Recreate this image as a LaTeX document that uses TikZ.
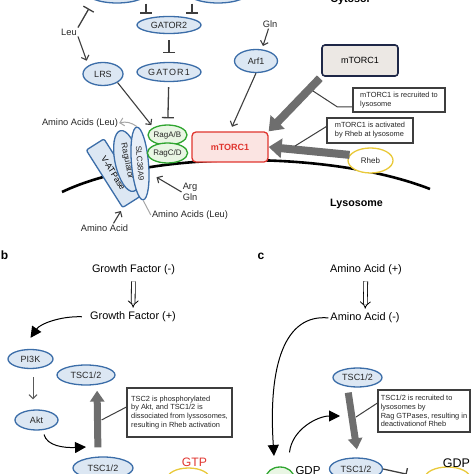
\documentclass[tikz,border=0pt]{standalone}
\usepackage{fontspec}
\setmainfont{Liberation Sans}
\usetikzlibrary{shapes.geometric,arrows.meta}

\definecolor{ellblue}{HTML}{3B6DA8}
\definecolor{fillblue}{HTML}{DCE7F3}
\definecolor{paleblue}{HTML}{E8EFF8}
\definecolor{ragline}{HTML}{2FA52F}
\definecolor{ragfill}{HTML}{E9F6E4}
\definecolor{torred}{HTML}{E0352F}
\definecolor{torfill}{HTML}{FBE4E2}
\definecolor{rhebline}{HTML}{E9C93A}
\definecolor{boxgray}{HTML}{ECE8E4}
\definecolor{boxnavy}{HTML}{1E2747}
\definecolor{bigarrow}{HTML}{6E6E6E}
\definecolor{linegray}{HTML}{3E3E3E}

\tikzset{
  prot/.style={ellipse, draw=ellblue, fill=fillblue, line width=1.3pt, inner sep=0pt, text=black!85, font=\fontsize{9}{10}\selectfont},
  rag/.style={ellipse, draw=ragline, fill=ragfill, line width=1.3pt, inner sep=0pt, text=black!85, font=\fontsize{8}{9}\selectfont},
  rhebell/.style={ellipse, draw=rhebline, fill=white, line width=1.3pt, inner sep=0pt, text=black!85, font=\fontsize{8}{9}\selectfont},
  lbl/.style={inner sep=1pt, text=black!85, font=\fontsize{9.3}{10.5}\selectfont},
  biglbl/.style={inner sep=1pt, font=\fontsize{10.9}{12}\selectfont},
  labelbf/.style={inner sep=0pt, font=\bfseries\fontsize{12}{14}\selectfont},
  note/.style={draw=linegray, line width=1.1pt, fill=white, align=left, inner sep=2pt, text=black!85, font=\fontsize{7.4}{8.9}\selectfont},
  callout/.style={draw=linegray, line width=1pt},
  act/.style={draw=linegray, line width=1.1pt, -{Straight Barb[length=4pt,width=8pt]}},
  actgray/.style={draw=black!65, line width=1pt, -{Straight Barb[length=4pt,width=8pt]}},
  grayarr/.style={draw=black!35, line width=1pt, -{Straight Barb[length=4pt,width=8pt]}},
  grayline/.style={draw=black!35, line width=1pt},
  inh/.style={draw=linegray, line width=1.3pt, -{Bar[width=12pt]}},
  bigarr/.style={draw=bigarrow, line width=8pt, -{Triangle[length=13pt,width=19pt]}},
  bigarrb/.style={draw=bigarrow, line width=7pt, -{Triangle[length=11pt,width=14pt]}},
  curv/.style={draw=black, line width=1pt, -{Triangle[length=11pt,width=11pt]}},
  hollow/.style={draw=black, double, double distance=3pt, line width=0.8pt, -{Implies}},
}

\begin{document}
\begin{tikzpicture}[x=1pt,y=1pt]
  \useasboundingbox (0,0) rectangle (474,474);
  \clip (0,0) rectangle (474,474);
  % (a) lysosome
  \draw[line width=2.6pt] (62,282) .. controls (150,324) and (330,324) .. (430,285);
  \node[prot, minimum width=64pt, minimum height=24pt] (sens1) at (117,483) {};
  \node[prot, minimum width=64pt, minimum height=24pt] (sens2) at (218,483) {};
  \node[inner sep=0pt, font=\bfseries\fontsize{10.7}{12}\selectfont] (cyto) at (350,474) {Cytosol};
  \node[prot, minimum width=64pt, minimum height=17pt] (gator2) at (169,449) {GATOR2};
  \node[prot, minimum width=64pt, minimum height=19pt] (gator1) at (169,402) {\addfontfeatures{LetterSpace=12}GATOR1};
  \node[lbl] (leu) at (69,442) {Leu};
  \node[prot, minimum width=40pt, minimum height=23pt] (lrs) at (103,400) {LRS};
  \node[lbl] (gln) at (270,450) {Gln};
  \node[prot, minimum width=43pt, minimum height=23pt] (arf1) at (256,413) {Arf1};
  \node[draw=ellblue, fill=fillblue, line width=1.3pt, rounded corners=2pt, minimum width=68pt, minimum height=21pt, inner sep=0pt, rotate=-57.6, font=\fontsize{8.5}{9}\selectfont] (vatp) at (113.3,300.8) {V-ATPase};
  \node[prot, minimum width=62pt, minimum height=24pt, rotate=-78, font=\fontsize{8.5}{9}\selectfont] (ragu) at (127,313) {Ragulator};
  \node[prot, fill=paleblue, minimum width=73pt, minimum height=17pt, rotate=-85, font=\fontsize{8}{9}\selectfont] (slc) at (140,310.5) {SLC38A9};
  \node[rag, minimum width=35pt, minimum height=20pt] (ragab) at (167.5,339) {RagA/B};
  \node[rag, minimum width=35pt, minimum height=20pt] (ragcd) at (167.5,321) {RagC/D};
  \node[draw=torred, fill=torfill, line width=1.3pt, rounded corners=4pt, minimum width=76pt, minimum height=30pt, text=torred, font=\bfseries\fontsize{9}{10}\selectfont] (mtor) at (230,327) {mTORC1};
  \node[draw=boxnavy, fill=boxgray, line width=1.6pt, rounded corners=3pt, minimum width=76pt, minimum height=31pt, font=\fontsize{9}{10}\selectfont] (mtorfree) at (360,413.5) {mTORC1};
  \node[note, minimum width=92pt, minimum height=24pt] (noterec) at (399,374) {mTORC1 is recruited to\\lysosome};
  \node[note, minimum width=86pt, minimum height=25pt] (noteact) at (370,343.5) {mTORC1 is activated\\by Rheb at lysosome};
  \node[rhebell, minimum width=45pt, minimum height=25pt] (rheb) at (370.5,313.5) {Rheb};
  \node[inner sep=0pt, font=\bfseries\fontsize{10.7}{12}\selectfont] (lyso) at (356.5,270) {Lysosome};
  \node[lbl] (aaleu1) at (80,351) {Amino Acids (Leu)};
  \node[lbl] (aaleu2) at (190,259) {Amino Acids (Leu)};
  \node[lbl, align=center] (arggln) at (190,282) {Arg\\Gln};
  \node[lbl] (aacid) at (104.5,246) {Amino Acid};
  \coordinate (onrec) at (313,383);
  \coordinate (onact) at (295,328);
  \draw[inh, shorten >=10pt] (leu.north east) -- (sens1.south west);
  \draw[inh, shorten >=5pt] (gator2.north west |- sens1.south) -- (gator2.north west);
  \draw[inh, shorten >=5pt] (gator2.north east |- sens2.south) -- (gator2.north east);
  \draw[inh, shorten <=6pt, shorten >=9pt] (gator2) -- (gator1);
  \draw[inh, shorten <=5pt, shorten >=6pt] (gator1) -- (ragab);
  \draw[act, shorten >=5pt] (leu.south east) -- (lrs.north west);
  \draw[act, shorten >=3pt] (lrs.south east) -- (ragab.north west);
  \draw[act, shorten >=3pt] (gln) -- ([xshift=6pt]arf1.north);
  \draw[act, shorten >=5pt] (arf1.south) -- (mtor.north);
  \draw[grayarr] (slc.west) to[bend right=25] (aaleu1.east);
  \draw[grayline] (slc.east) -- (aaleu2.west);
  \draw[act, shorten >=8pt] (arggln.west) -- (slc.40);
  \draw[act, shorten >=3pt] ([xshift=9pt]aacid.north) -- (vatp.south east);
  \draw[bigarr, shorten <=2pt] (mtorfree.south west) -- (mtor.north east);
  \draw[bigarr] (rheb.165) -- (mtor.east);
  \draw[callout] ([yshift=-7pt]noterec.west) -- ++(-15,0) -- (onrec);
  \draw[callout] ([yshift=4pt]noteact.west) -- (onact);

  % (b) growth factor
  \node[labelbf] (labb) at (4.5,219) {b};
  \node[biglbl] (gfminus) at (133.5,204) {Growth Factor (-)};
  \node[biglbl] (gfplus) at (133,157) {Growth Factor (+)};
  \node[prot, minimum width=45pt, minimum height=19pt] (pi3k) at (30.5,115) {PI3K};
  \node[prot, minimum width=43pt, minimum height=20pt] (akt) at (36.5,54) {Akt};
  \node[prot, minimum width=58pt, minimum height=20pt] (tscup) at (86,99) {TSC1/2};
  \node[prot, minimum width=60pt, minimum height=22pt] (tscdown) at (103,6) {TSC1/2};
  \node[note, minimum width=105pt, minimum height=49pt] (notephos) at (179.5,61.5) {TSC2 is phosphorylated\\by Akt, and TSC1/2 is\\dissociated from lyssosomes,\\resulting in Rheb activation};
  \node[rhebell, minimum width=43pt, minimum height=22pt] (rhebgtp) at (188.5,-5) {Rheb};
  \node[inner sep=0pt, text=torred, font=\fontsize{12.2}{14}\selectfont] (gtp) at (194.5,11.5) {GTP};
  \coordinate (aktend) at (86,27);
  \coordinate (onphos) at (101.5,54);
  \draw[hollow, shorten <=5pt, shorten >=3pt] (gfminus) -- (gfplus);
  \draw[curv, shorten <=7pt] (gfplus.west) .. controls (60,158) and (40,150) .. ([yshift=11pt]pi3k.north);
  \draw[actgray, shorten <=8pt, shorten >=10pt] ([xshift=2.5pt]pi3k.south) -- ([xshift=-3.5pt]akt.north);
  \draw[curv, shorten <=4pt] ([xshift=6.5pt]akt.south) .. controls (47,28) and (64,26) .. (aktend);
  \draw[bigarrb, shorten <=9pt, shorten >=5pt] ([xshift=-5pt]tscdown.north) -- ([xshift=11pt]tscup.south);
  \draw[callout] ([yshift=5.5pt]notephos.west) -- (onphos);

  % (c) amino acid
  \node[labelbf] (labc) at (261,218) {c};
  \node[biglbl] (aaplus) at (366,204) {Amino Acid (+)};
  \node[biglbl] (aaminus) at (365,156) {Amino Acid (-)};
  \node[rag, minimum width=28pt, minimum height=22pt] (ragoff) at (280,-4) {};
  \node[inner sep=0pt, font=\fontsize{11.5}{13}\selectfont] (gdpsmall) at (308,3) {GDP};
  \node[prot, minimum width=49pt, minimum height=19pt] (tscc1) at (357.5,96.5) {TSC1/2};
  \node[prot, minimum width=53pt, minimum height=22pt] (tscc2) at (356,5) {TSC1/2};
  \node[note, minimum width=92pt, minimum height=42pt] (noterag) at (424,63) {TSC1/2 is recruited to\\lysosomes by\\Rag GTPases, resulting in\\deactivationof Rheb};
  \node[rhebell, minimum width=45pt, minimum height=22pt] (rhebgdp) at (447.5,-4) {Rheb};
  \node[inner sep=0pt, font=\fontsize{12.5}{14}\selectfont] (gdpbig) at (456.5,11) {GDP};
  \coordinate (ragtip) at (274,18);
  \coordinate (tsctarget) at (340,58);
  \coordinate (onrag) at (356,57);
  \draw[hollow, shorten <=5pt, shorten >=3pt] (aaplus) -- (aaminus);
  \draw[curv, shorten <=1pt] (aaminus.west) .. controls (285,160) and (268,110) .. (ragtip);
  \draw[curv, shorten <=14pt] ([xshift=8pt]ragoff.north) .. controls (292,45) and (318,58) .. (tsctarget);
  \draw[bigarrb, shorten <=5pt, shorten >=8pt] ([xshift=-10pt]tscc1.south) -- ([xshift=2pt]tscc2.north);
  \draw[callout] ([yshift=8pt]noterag.west) -- (onrag);
  \draw[inh, shorten >=18pt] (tscc2.east) -- (rhebgdp.west);
\end{tikzpicture}
\end{document}
